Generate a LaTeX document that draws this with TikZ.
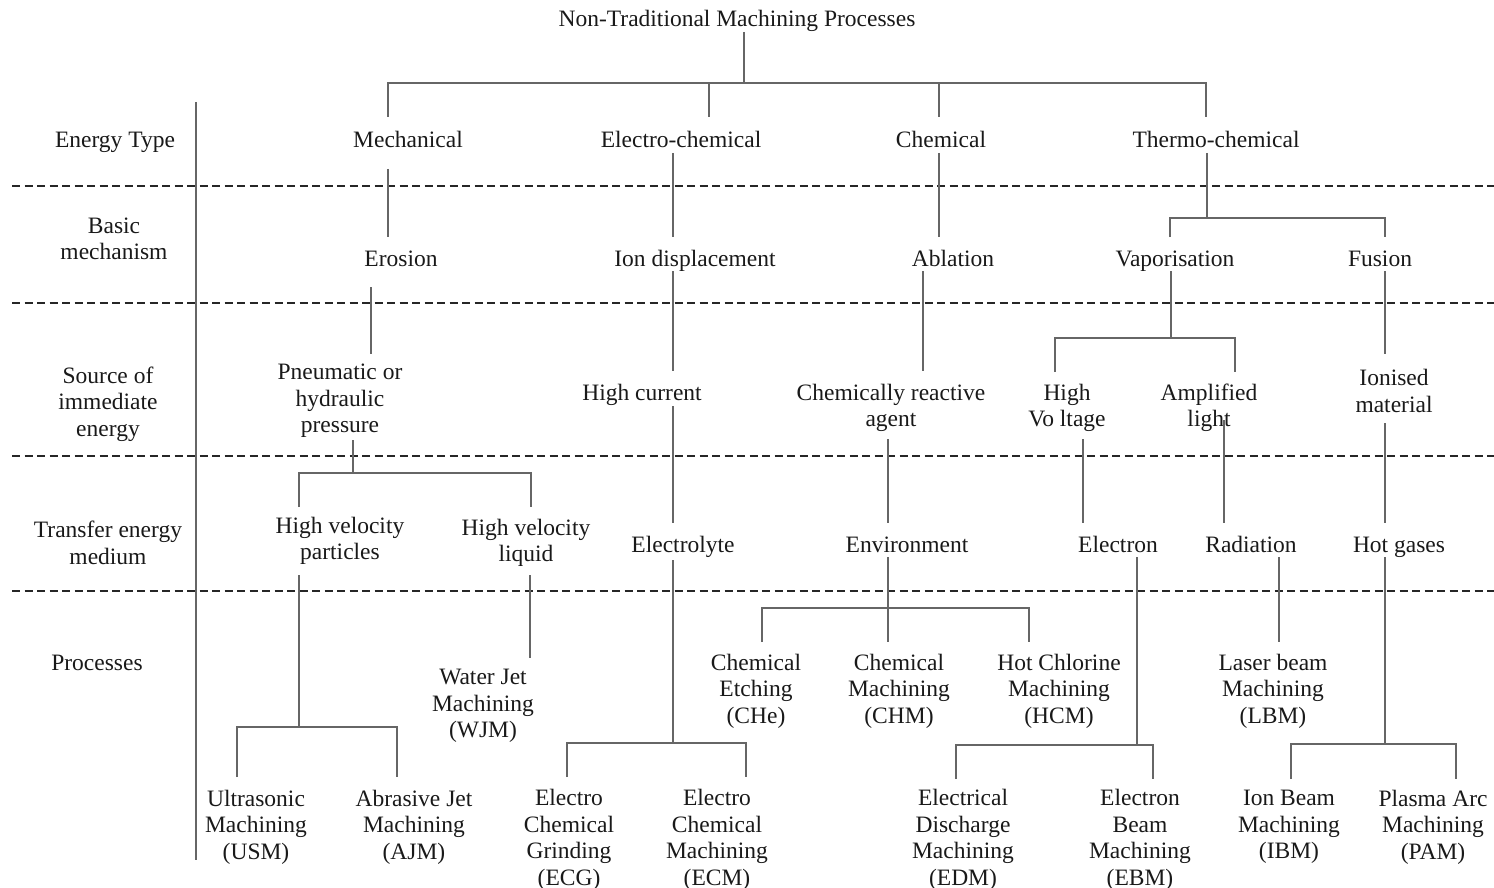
\documentclass[tikz,border=0pt]{standalone}
\usepackage{fontspec}
\setmainfont{Liberation Serif}
\begin{document}
\begin{tikzpicture}[x=1pt,y=-1pt,
  conn/.style={draw=black!60, line width=1.3pt},
  sepline/.style={draw=black!85, line width=2.2pt, dash pattern=on 8pt off 4.5pt},
  lbl/.style={font=\fontsize{23.5}{26.5}\selectfont, align=center, inner sep=0pt, text=black!90, yshift=-3pt},
  one/.style={lbl, text height=16.5pt, text depth=5pt}]
\useasboundingbox (0,0) rectangle (1494,888);

% ---------- labels ----------
\node[one] (title) at (737,18) {Non-Traditional Machining Processes};
\node[one] (r1) at (115,139) {Energy Type};
\node[lbl] (r2) at (114,236) {Basic\\mechanism};
\node[lbl] (r3) at (108,401) {Source of\\immediate\\energy};
\node[lbl] (r4) at (108,540) {Transfer energy\\medium};
\node[one] (r5) at (97,662) {Processes};

\node[one] (mech) at (408,139) {Mechanical};
\node[one] (elch) at (681,139) {Electro-chemical};
\node[one] (chem) at (941,139) {Chemical};
\node[one] (thch) at (1216,139) {Thermo-chemical};

\node[one] (ero) at (401,258) {Erosion};
\node[one] (ion) at (695,258) {Ion displacement};
\node[one] (abl) at (953,258) {Ablation};
\node[one] (vap) at (1175,258) {Vaporisation};
\node[one] (fus) at (1380,258) {Fusion};

\node[lbl] (pneu) at (340,398) {Pneumatic or\\hydraulic\\pressure};
\node[one] (hcur) at (642,392) {High current};
\node[lbl] (cra) at (891,405) {Chemically reactive\\agent};
\node[lbl] (hv) at (1067,405) {High\\Vo ltage};
\node[lbl] (al) at (1209,405) {Amplified\\light};
\node[lbl] (ionm) at (1394,388) {Ionised\\material};

\node[lbl] (hvp) at (340,538) {High velocity\\particles};
\node[lbl] (hvl) at (526,540) {High velocity\\liquid};
\node[one] (elec) at (683,544) {Electrolyte};
\node[one] (env) at (907,544) {Environment};
\node[one] (eln) at (1118,544) {Electron};
\node[one] (rad) at (1251,544) {Radiation};
\node[one] (hot) at (1399,544) {Hot gases};

\node[lbl] (wjm) at (483,703) {Water Jet\\Machining\\(WJM)};
\node[lbl] (che) at (756,688) {Chemical\\Etching\\(CHe)};
\node[lbl] (chm) at (899,688) {Chemical\\Machining\\(CHM)};
\node[lbl] (hcm) at (1059,688) {Hot Chlorine\\Machining\\(HCM)};
\node[lbl] (lbm) at (1273,688) {Laser beam\\Machining\\(LBM)};
\node[lbl] (usm) at (256,824) {Ultrasonic\\Machining\\(USM)};
\node[lbl] (ajm) at (414,824) {Abrasive Jet\\Machining\\(AJM)};
\node[lbl] (ecg) at (569,837) {Electro\\Chemical\\Grinding\\(ECG)};
\node[lbl] (ecm) at (717,837) {Electro\\Chemical\\Machining\\(ECM)};
\node[lbl] (edm) at (963,837) {Electrical\\Discharge\\Machining\\(EDM)};
\node[lbl] (ebm) at (1140,837) {Electron\\Beam\\Machining\\(EBM)};
\node[lbl] (ibm) at (1289,824) {Ion Beam\\Machining\\(IBM)};
\node[lbl] (pam) at (1433,824) {Plasma Arc\\Machining\\(PAM)};

% ---------- separators ----------
\coordinate (dl) at (196,102); \coordinate (dr) at (196,860);
\draw[conn] (dl) -- (dr);
\foreach \yy [count=\i] in {186,303,456,591}{
  \coordinate (s\i a) at (12,\yy); \coordinate (s\i b) at (1494,\yy);
  \draw[sepline] (s\i a) -- (s\i b);
}

% ---------- connector points ----------
\coordinate (t0) at (744,32);   \coordinate (t1) at (744,83);
\coordinate (m0) at (388,117);  \coordinate (m1) at (388,83);
\coordinate (c0) at (709,117);  \coordinate (c1) at (709,83);
\coordinate (k0) at (939,117);  \coordinate (k1) at (939,83);
\coordinate (h0) at (1206,117); \coordinate (h1) at (1206,83);

\coordinate (mA) at (388,169);  \coordinate (mB) at (388,237);
\coordinate (cA) at (673,153);  \coordinate (cB) at (673,237);
\coordinate (kA) at (939,153);  \coordinate (kB) at (939,237);
\coordinate (hA) at (1207,153); \coordinate (hB) at (1207,218);
\coordinate (vA) at (1170,237); \coordinate (vB) at (1170,218);
\coordinate (fA) at (1385,237); \coordinate (fB) at (1385,218);

\coordinate (eA) at (371,287);  \coordinate (eB) at (371,354);
\coordinate (iA) at (673,271);  \coordinate (iB) at (673,371);
\coordinate (aA) at (923,271);  \coordinate (aB) at (923,371);
\coordinate (pA) at (1171,271); \coordinate (pB) at (1171,338);
\coordinate (pL) at (1055,372); \coordinate (pL1) at (1055,338);
\coordinate (pR) at (1235,372); \coordinate (pR1) at (1235,338);
\coordinate (uA) at (1385,271); \coordinate (uB) at (1385,354);

\coordinate (nA) at (353,440);  \coordinate (nB) at (353,473);
\coordinate (nL) at (299,507);  \coordinate (nL1) at (299,473);
\coordinate (nR) at (531,507);  \coordinate (nR1) at (531,473);
\coordinate (qA) at (673,406);  \coordinate (qB) at (673,523);
\coordinate (rA) at (888,439);  \coordinate (rB) at (888,523);
\coordinate (wA) at (1083,439); \coordinate (wB) at (1083,523);
\coordinate (lA) at (1224,420); \coordinate (lB) at (1224,523);
\coordinate (oA) at (1385,423); \coordinate (oB) at (1385,523);

\coordinate (xA) at (299,575);  \coordinate (xB) at (299,727);
\coordinate (xL) at (237,777);  \coordinate (xL1) at (237,727);
\coordinate (xR) at (397,777);  \coordinate (xR1) at (397,727);
\coordinate (yA) at (530,575);  \coordinate (yB) at (530,658);
\coordinate (zA) at (673,560);  \coordinate (zB) at (673,743);
\coordinate (zL) at (567,777);  \coordinate (zL1) at (567,743);
\coordinate (zR) at (746,777);  \coordinate (zR1) at (746,743);
\coordinate (gA) at (888,557);  \coordinate (gB) at (888,642);
\coordinate (gL) at (762,642);  \coordinate (gL1) at (762,608);
\coordinate (gR) at (1029,642); \coordinate (gR1) at (1029,608);
\coordinate (bA) at (1137,557); \coordinate (bB) at (1137,745);
\coordinate (bL) at (956,779);  \coordinate (bL1) at (956,745);
\coordinate (bR) at (1153,779); \coordinate (bR1) at (1153,745);
\coordinate (dA) at (1279,557); \coordinate (dB) at (1279,642);
\coordinate (jA) at (1385,557); \coordinate (jB) at (1385,744);
\coordinate (jL) at (1291,779); \coordinate (jL1) at (1291,744);
\coordinate (jR) at (1456,779); \coordinate (jR1) at (1456,744);

% ---------- connectors ----------
\draw[conn] (t0) -- (t1);
\draw[conn] (m0) -- (m1) -- (h1) -- (h0);
\draw[conn] (c1) -- (c0);
\draw[conn] (k1) -- (k0);

\draw[conn] (mA) -- (mB);
\draw[conn] (cA) -- (cB);
\draw[conn] (kA) -- (kB);
\draw[conn] (hA) -- (hB);
\draw[conn] (vA) -- (vB) -- (fB) -- (fA);

\draw[conn] (eA) -- (eB);
\draw[conn] (iA) -- (iB);
\draw[conn] (aA) -- (aB);
\draw[conn] (pA) -- (pB);
\draw[conn] (pL) -- (pL1) -- (pR1) -- (pR);
\draw[conn] (uA) -- (uB);

\draw[conn] (nA) -- (nB);
\draw[conn] (nL) -- (nL1) -- (nR1) -- (nR);
\draw[conn] (qA) -- (qB);
\draw[conn] (rA) -- (rB);
\draw[conn] (wA) -- (wB);
\draw[conn] (lA) -- (lB);
\draw[conn] (oA) -- (oB);

\draw[conn] (xA) -- (xB);
\draw[conn] (xL) -- (xL1) -- (xR1) -- (xR);
\draw[conn] (yA) -- (yB);
\draw[conn] (zA) -- (zB);
\draw[conn] (zL) -- (zL1) -- (zR1) -- (zR);
\draw[conn] (gA) -- (gB);
\draw[conn] (gL) -- (gL1) -- (gR1) -- (gR);
\draw[conn] (bA) -- (bB);
\draw[conn] (bL) -- (bL1) -- (bR1) -- (bR);
\draw[conn] (dA) -- (dB);
\draw[conn] (jA) -- (jB);
\draw[conn] (jL) -- (jL1) -- (jR1) -- (jR);
\end{tikzpicture}
\end{document}
